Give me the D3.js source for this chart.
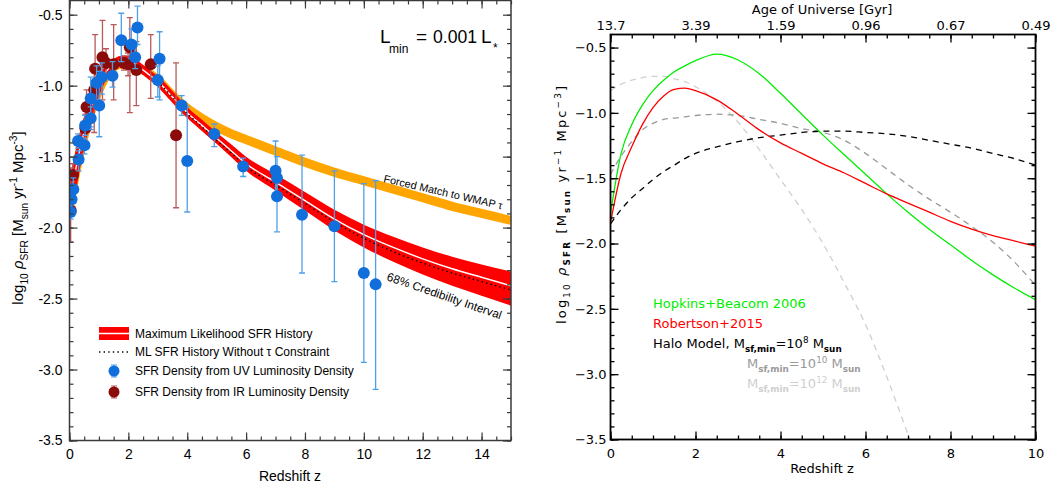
<!DOCTYPE html>
<html>
<head>
<meta charset="utf-8">
<script src="https://cdn.jsdelivr.net/npm/d3@7"></script>
<style>
  body { margin: 0; background: #fff; }
  svg { display: block; }
  text { white-space: pre; }
</style>
</head>
<body>
<svg id="chart" width="1055" height="491"></svg>
<script>
// ---------- left panel: fitted SFR history ----------
var zFit = [0, 0.25, 0.5, 0.75, 1, 1.25, 1.5, 1.75, 2, 2.25, 2.5, 2.75, 3, 3.5, 4, 4.5, 5, 5.5, 6, 7, 8, 9, 10, 11, 12, 13, 14, 15];
var mlSfr = [-1.84, -1.55, -1.32, -1.14, -1.00, -0.90, -0.85, -0.82, -0.82, -0.85, -0.89, -0.93, -0.97, -1.08, -1.19, -1.28, -1.37, -1.46, -1.55, -1.68, -1.81, -1.94, -2.05, -2.14, -2.22, -2.29, -2.35, -2.41];
var mlSfrHigh = [-1.81, -1.52, -1.29, -1.11, -0.97, -0.87, -0.82, -0.79, -0.79, -0.82, -0.86, -0.90, -0.94, -1.05, -1.155, -1.24, -1.33, -1.415, -1.50, -1.625, -1.75, -1.875, -1.98, -2.065, -2.14, -2.205, -2.26, -2.31];
var mlSfrLow = [-1.87, -1.58, -1.35, -1.17, -1.03, -0.93, -0.88, -0.85, -0.85, -0.88, -0.92, -0.96, -1.00, -1.11, -1.225, -1.32, -1.41, -1.505, -1.60, -1.74, -1.88, -2.02, -2.14, -2.24, -2.33, -2.41, -2.48, -2.55];
var mlSfrNoTau = [null, null, null, null, null, null, null, null, null, null, null, null, -0.97, -1.08, -1.195, -1.29, -1.385, -1.475, -1.57, -1.70, -1.83, -1.96, -2.075, -2.17, -2.25, -2.32, -2.38, -2.44];
var wmapSfr = [-1.86, -1.57, -1.35, -1.17, -1.03, -0.93, -0.87, -0.85, -0.85, -0.87, -0.89, -0.92, -0.96, -1.07, -1.16, -1.23, -1.29, -1.34, -1.38, -1.46, -1.54, -1.61, -1.67, -1.73, -1.79, -1.85, -1.90, -1.95];

// [z, log10 rho, err up, err down]
var uvPoints = [
  [0.04, -1.89, 0.05, 0.05], [0.07, -1.80, 0.08, 0.08], [0.13, -1.73, 0.08, 0.10],
  [0.29, -1.39, 0.05, 0.05], [0.31, -1.52, 0.06, 0.08], [0.51, -1.42, 0.05, 0.06],
  [0.53, -1.28, 0.07, 0.07], [0.72, -1.23, 0.08, 0.08], [0.72, -1.09, 0.15, 0.20],
  [0.92, -0.98, 0.12, 0.12], [1.01, -1.14, 0.24, 0.22], [1.10, -0.94, 0.10, 0.12],
  [1.46, -0.93, 0.10, 0.08], [1.76, -0.68, 0.19, 0.15], [2.10, -0.71, 0.11, 0.10],
  [2.23, -0.80, 0.08, 0.08], [2.31, -0.59, 0.15, 0.12], [3.00, -0.96, 0.10, 0.12],
  [3.06, -0.81, 0.19, 0.29], [3.81, -1.14, 0.07, 0.07], [4.00, -1.53, 0.38, 0.36],
  [4.92, -1.34, 0.07, 0.09], [5.90, -1.57, 0.06, 0.07], [7.00, -1.60, 0.21, 0.20],
  [7.05, -1.65, 0.15, 0.14], [7.05, -1.78, 0.20, 0.25], [7.90, -1.91, 0.42, 0.41],
  [9.00, -1.99, 0.39, 0.39], [10.00, -2.32, 0.63, 0.63], [10.40, -2.40, 0.73, 0.74]
];
var irPoints = [
  [0.04, -1.88, 0.30, 0.22], [0.12, -1.63, 0.08, 0.08], [0.54, -1.30, 0.10, 0.10],
  [0.58, -1.15, 0.12, 0.15], [0.84, -1.03, 0.12, 0.30], [0.87, -0.88, 0.24, 0.26],
  [1.12, -0.80, 0.26, 0.30], [1.24, -0.84, 0.10, 0.10], [1.50, -0.85, 0.28, 0.25],
  [1.85, -0.84, 0.05, 0.05], [1.99, -0.85, 0.08, 0.08], [2.05, -0.73, 0.21, 0.46],
  [2.27, -0.89, 0.20, 0.25], [2.76, -0.85, 0.21, 0.24], [3.62, -1.35, 0.51, 0.51]
];

// ---------- right panel: model comparison ----------
var zModel = [0, 0.25, 0.5, 0.75, 1, 1.25, 1.5, 1.75, 2, 2.5, 3, 3.5, 4, 4.5, 5, 5.5, 6, 6.5, 7, 7.5, 8, 8.5, 9, 9.5, 10];
var hopkinsBeacom = [-1.77, -1.31, -1.09, -0.94, -0.83, -0.75, -0.685, -0.64, -0.60, -0.55, -0.595, -0.70, -0.85, -1.01, -1.17, -1.32, -1.47, -1.62, -1.76, -1.89, -2.01, -2.13, -2.24, -2.34, -2.43];
var robertson = [-1.84, -1.46, -1.26, -1.09, -0.96, -0.87, -0.82, -0.81, -0.83, -0.90, -1.01, -1.13, -1.23, -1.31, -1.39, -1.46, -1.54, -1.62, -1.69, -1.76, -1.83, -1.89, -1.94, -1.98, -2.02];
var haloM8 = [-1.85, -1.74, -1.65, -1.58, -1.51, -1.45, -1.40, -1.35, -1.31, -1.26, -1.22, -1.19, -1.17, -1.15, -1.14, -1.14, -1.15, -1.16, -1.18, -1.21, -1.24, -1.27, -1.31, -1.35, -1.40];
var haloM10 = [-1.47, -1.33, -1.22, -1.13, -1.08, -1.05, -1.04, -1.03, -1.02, -1.01, -1.02, -1.05, -1.08, -1.12, -1.15, -1.21, -1.31, -1.43, -1.55, -1.66, -1.76, -1.87, -1.99, -2.14, -2.32];
var haloM12 = [-0.83, -0.78, -0.75, -0.73, -0.72, -0.72, -0.74, -0.76, -0.80, -0.91, -1.07, -1.28, -1.51, -1.74, -2.00, -2.30, -2.62, -3.02, -3.46, -3.90, null, null, null, null, null];
var ageLabels = ["13.7", "3.39", "1.59", "0.96", "0.67", "0.49"];

var svg = d3.select("#chart");
var yMajor = [-3.5, -3.0, -2.5, -2.0, -1.5, -1.0, -0.5];
var yMinor = d3.range(-35, -4).map(d => d / 10);

// writes text with sub/superscript pieces, sizes in px
function richText(text, parts, size) {
  var level = 0;
  parts.forEach(function (p) {
    var shift = p.sub ? 0.3 : (p.sup ? -0.42 : 0);
    var ts = text.append("tspan")
      .attr("dy", ((shift - level) * size).toFixed(2))
      .attr("font-size", (shift ? 0.68 : 1) * size)
      .text(p.t);
    if (p.bold) ts.attr("font-weight", "bold");
    if (p.italic) ts.attr("font-style", "italic");
    level = shift;
  });
  return text;
}

// inward ticks on all four sides
function drawAxes(g, x, y, o) {
  var bottom = y.range()[0], top = y.range()[1], left = x.range()[0], right = x.range()[1];
  g.append("g").attr("transform", "translate(0," + bottom + ")")
    .call(d3.axisBottom(x).tickValues(o.xMajor).tickSize(-8).tickPadding(o.xPad).tickFormat(o.xFormat));
  g.append("g").attr("transform", "translate(0," + bottom + ")")
    .call(d3.axisBottom(x).tickValues(o.xMinor).tickSize(-4).tickFormat(""));
  var topAxis = d3.axisTop(x).tickValues(o.xMajor).tickSize(-8).tickPadding(o.topPad || 0)
    .tickFormat(o.topFormat || "");
  g.append("g").attr("class", "top-axis").attr("transform", "translate(0," + top + ")").call(topAxis);
  g.append("g").attr("transform", "translate(0," + top + ")")
    .call(d3.axisTop(x).tickValues(o.xMinor).tickSize(-4).tickFormat(""));
  g.append("g").attr("transform", "translate(" + left + ",0)")
    .call(d3.axisLeft(y).tickValues(yMajor).tickSize(-8).tickPadding(o.yPad).tickFormat(o.yFormat));
  g.append("g").attr("transform", "translate(" + left + ",0)")
    .call(d3.axisLeft(y).tickValues(yMinor).tickSize(-4).tickFormat(""));
  g.append("g").attr("transform", "translate(" + right + ",0)")
    .call(d3.axisRight(y).tickValues(yMajor).tickSize(-8).tickFormat(""));
  g.append("g").attr("transform", "translate(" + right + ",0)")
    .call(d3.axisRight(y).tickValues(yMinor).tickSize(-4).tickFormat(""));
  g.selectAll(".domain").remove();
  g.selectAll(".tick line").attr("stroke", o.color).attr("stroke-width", o.width);
  g.selectAll(".tick text").attr("fill", "#000").attr("font-size", o.fontSize).attr("font-family", o.font);
  g.append("rect")
    .attr("x", left).attr("y", top).attr("width", right - left).attr("height", bottom - top)
    .attr("fill", "none").attr("stroke", o.color).attr("stroke-width", o.frameWidth);
}

// ================= LEFT PANEL =================
var xL = d3.scaleLinear().domain([0, 15]).range([69.5, 511]);
var yL = d3.scaleLinear().domain([-3.5, -0.4]).range([440.5, 0.5]);
var left = svg.append("g").attr("font-family", "'Liberation Sans', Arial, Helvetica, sans-serif");

svg.append("clipPath").attr("id", "clipL").append("rect")
  .attr("x", 69.5).attr("y", 0.5).attr("width", 441.5).attr("height", 440);

var plotL = left.append("g").attr("clip-path", "url(#clipL)");
var fitLine = function (vals) {
  return d3.line().defined((d, i) => vals[i] !== null).curve(d3.curveMonotoneX)
    .x((d, i) => xL(zFit[i])).y((d, i) => yL(vals[i]))(vals);
};

plotL.append("path").attr("d", fitLine(wmapSfr))
  .attr("fill", "none").attr("stroke", "#ffa500").attr("stroke-width", 9);

plotL.append("path")
  .attr("d", d3.area().curve(d3.curveMonotoneX)
    .x((d, i) => xL(zFit[i])).y0((d, i) => yL(mlSfrLow[i])).y1((d, i) => yL(mlSfrHigh[i]))(zFit))
  .attr("fill", "#ff0000");
plotL.append("path").attr("d", fitLine(mlSfr))
  .attr("fill", "none").attr("stroke", "#ff0000").attr("stroke-width", 8);
plotL.append("path").attr("d", fitLine(mlSfr))
  .attr("fill", "none").attr("stroke", "#fff").attr("stroke-width", 1.4);
plotL.append("path").attr("d", fitLine(mlSfrNoTau))
  .attr("fill", "none").attr("stroke", "#000").attr("stroke-width", 1.4).attr("stroke-dasharray", "1.4,3.2");

function drawPoints(g, pts, fill, barColor) {
  var grp = g.append("g");
  var pt = grp.selectAll("g").data(pts).join("g");
  pt.append("line")
    .attr("x1", d => xL(d[0])).attr("x2", d => xL(d[0]))
    .attr("y1", d => yL(d[1] + d[2])).attr("y2", d => yL(d[1] - d[3]))
    .attr("stroke", barColor).attr("stroke-width", 1.3);
  [2, 3].forEach(function (k) {
    pt.append("line")
      .attr("x1", d => xL(d[0]) - 3).attr("x2", d => xL(d[0]) + 3)
      .attr("y1", d => yL(k === 2 ? d[1] + d[2] : d[1] - d[3]))
      .attr("y2", d => yL(k === 2 ? d[1] + d[2] : d[1] - d[3]))
      .attr("stroke", barColor).attr("stroke-width", 1.3);
  });
  grp.selectAll("circle").data(pts).join("circle")
    .attr("cx", d => xL(d[0])).attr("cy", d => yL(d[1])).attr("r", 6).attr("fill", fill);
}
drawPoints(plotL, irPoints, "#8b0a0a", "#b85a5a");
drawPoints(plotL, uvPoints, "#116fdc", "#4f9fe8");

drawAxes(left, xL, yL, {
  xMajor: d3.range(0, 15.01, 2), xMinor: d3.range(0, 15.01, 0.5),
  xFormat: d3.format("d"), yFormat: d => d.toFixed(1),
  xPad: 9, yPad: 7, color: "#3a3a3a", width: 1.2, frameWidth: 1.5, fontSize: 14,
  font: "'Liberation Sans', Arial, Helvetica, sans-serif"
});

left.append("text").attr("x", 290).attr("y", 481).attr("text-anchor", "middle")
  .attr("font-size", 14).text("Redshift z");
richText(left.append("text").attr("transform", "translate(23,218) rotate(-90)").attr("text-anchor", "middle"),
  [{t: "log"}, {t: "10", sub: 1}, {t: " ρ", italic: 1}, {t: "SFR", sub: 1}, {t: " [M"}, {t: "sun", sub: 1},
   {t: " yr"}, {t: "-1", sup: 1}, {t: " Mpc"}, {t: "-3", sup: 1}, {t: "]"}], 15);

// L_min annotation
left.append("text").attr("x", 380).attr("y", 43).attr("font-size", 19).text("L");
left.append("text").attr("x", 389).attr("y", 53).attr("font-size", 12).text("min");
left.append("text").attr("x", 416).attr("y", 43).attr("font-size", 19).text("=");
left.append("text").attr("x", 433).attr("y", 43).attr("font-size", 18)
  .attr("textLength", 44).attr("lengthAdjust", "spacingAndGlyphs").text("0.001");
left.append("text").attr("x", 481).attr("y", 43).attr("font-size", 19).text("L");
left.append("text").attr("x", 493).attr("y", 52).attr("font-size", 12).text("*");

left.append("text").attr("transform", "translate(383,182) rotate(13)")
  .attr("font-size", 10.8).text("Forced Match to WMAP τ");
left.append("text").attr("transform", "translate(386,280) rotate(19)")
  .attr("font-size", 11.8).text("68% Credibility Interval");

// legend
var legL = left.append("g").attr("font-size", 12);
legL.append("rect").attr("x", 99).attr("y", 327).attr("width", 30).attr("height", 13).attr("fill", "#ff0000");
legL.append("line").attr("x1", 99).attr("x2", 129).attr("y1", 333.5).attr("y2", 333.5)
  .attr("stroke", "#fff").attr("stroke-width", 1.5);
legL.append("line").attr("x1", 99).attr("x2", 129).attr("y1", 352).attr("y2", 352)
  .attr("stroke", "#000").attr("stroke-width", 1.4).attr("stroke-dasharray", "1.4,3.2");
[[371, "#116fdc", "#4f9fe8"], [392, "#8b0a0a", "#b85a5a"]].forEach(function (s) {
  legL.append("line").attr("x1", 114).attr("x2", 114).attr("y1", s[0] - 6).attr("y2", s[0] + 6)
    .attr("stroke", s[2]).attr("stroke-width", 1.3);
  legL.append("line").attr("x1", 111).attr("x2", 117).attr("y1", s[0] - 6).attr("y2", s[0] - 6).attr("stroke", s[2]);
  legL.append("line").attr("x1", 111).attr("x2", 117).attr("y1", s[0] + 6).attr("y2", s[0] + 6).attr("stroke", s[2]);
  legL.append("circle").attr("cx", 114).attr("cy", s[0]).attr("r", 5.5).attr("fill", s[1]);
});
legL.append("text").attr("x", 135).attr("y", 338).text("Maximum Likelihood SFR History");
legL.append("text").attr("x", 135).attr("y", 356).text("ML SFR History Without τ Constraint");
legL.append("text").attr("x", 135).attr("y", 375).text("SFR Density from UV Luminosity Density");
legL.append("text").attr("x", 135).attr("y", 396).text("SFR Density from IR Luminosity Density");

// ================= RIGHT PANEL =================
var fontR = "'DejaVu Sans', Verdana, sans-serif";
var xR = d3.scaleLinear().domain([0, 10]).range([610.5, 1035.5]);
var yR = d3.scaleLinear().domain([-3.5, -0.4]).range([439.5, 34.5]);
var right = svg.append("g").attr("font-family", fontR);

svg.append("clipPath").attr("id", "clipR").append("rect")
  .attr("x", 610.5).attr("y", 34.5).attr("width", 425).attr("height", 405);
var plotR = right.append("g").attr("clip-path", "url(#clipR)");

var modelLine = function (vals) {
  return d3.line().defined((d, i) => vals[i] !== null).curve(d3.curveMonotoneX)
    .x((d, i) => xR(zModel[i])).y((d, i) => yR(vals[i]))(vals);
};
var models = [
  {vals: haloM12, color: "#cfcfcf", dash: "6,5"},
  {vals: haloM10, color: "#9a9a9a", dash: "6,5"},
  {vals: haloM8, color: "#000", dash: "6,5"},
  {vals: hopkinsBeacom, color: "#00ee00", dash: null},
  {vals: robertson, color: "#ff0000", dash: null}
];
models.forEach(function (m) {
  plotR.append("path").attr("d", modelLine(m.vals))
    .attr("fill", "none").attr("stroke", m.color).attr("stroke-width", 1.3)
    .attr("stroke-dasharray", m.dash);
});

drawAxes(right, xR, yR, {
  xMajor: d3.range(0, 10.01, 2), xMinor: d3.range(0, 10.01, 0.5),
  xFormat: d3.format("d"), yFormat: d => "−" + Math.abs(d).toFixed(1),
  topFormat: (d, i) => ageLabels[i], topPad: 5,
  xPad: 9, yPad: 4, color: "#000", width: 1.3, frameWidth: 1.8, fontSize: 13, font: fontR
});

right.append("text").attr("x", 822).attr("y", 14).attr("text-anchor", "middle")
  .attr("font-size", 13).text("Age of Universe [Gyr]");
right.append("text").attr("x", 822).attr("y", 473).attr("text-anchor", "middle")
  .attr("font-size", 13).text("Redshift z");
richText(right.append("text").attr("transform", "translate(566,205) rotate(-90)")
    .attr("text-anchor", "middle").attr("textLength", 238).attr("lengthAdjust", "spacing"),
  [{t: "log"}, {t: "10", sub: 1}, {t: " ρ", italic: 1}, {t: "SFR", sub: 1, bold: 1}, {t: " [M"}, {t: "sun", sub: 1, bold: 1},
   {t: " yr"}, {t: "−1", sup: 1}, {t: " Mpc"}, {t: "−3", sup: 1}, {t: "]"}], 13);

var legR = right.append("g").attr("font-size", 13);
legR.append("text").attr("x", 653).attr("y", 308).attr("fill", "#00ee00").text("Hopkins+Beacom 2006");
legR.append("text").attr("x", 653).attr("y", 328).attr("fill", "#ff0000").text("Robertson+2015");
richText(legR.append("text").attr("x", 653).attr("y", 348).attr("fill", "#000"),
  [{t: "Halo Model, M"}, {t: "sf,min", sub: 1, bold: 1}, {t: "=10"}, {t: "8", sup: 1}, {t: " M"}, {t: "sun", sub: 1, bold: 1}], 13);
richText(legR.append("text").attr("x", 747).attr("y", 368).attr("fill", "#9a9a9a"),
  [{t: "M"}, {t: "sf,min", sub: 1, bold: 1}, {t: "=10"}, {t: "10", sup: 1}, {t: " M"}, {t: "sun", sub: 1, bold: 1}], 13);
richText(legR.append("text").attr("x", 747).attr("y", 388).attr("fill", "#cfcfcf"),
  [{t: "M"}, {t: "sf,min", sub: 1, bold: 1}, {t: "=10"}, {t: "12", sup: 1}, {t: " M"}, {t: "sun", sub: 1, bold: 1}], 13);
</script>
</body>
</html>
